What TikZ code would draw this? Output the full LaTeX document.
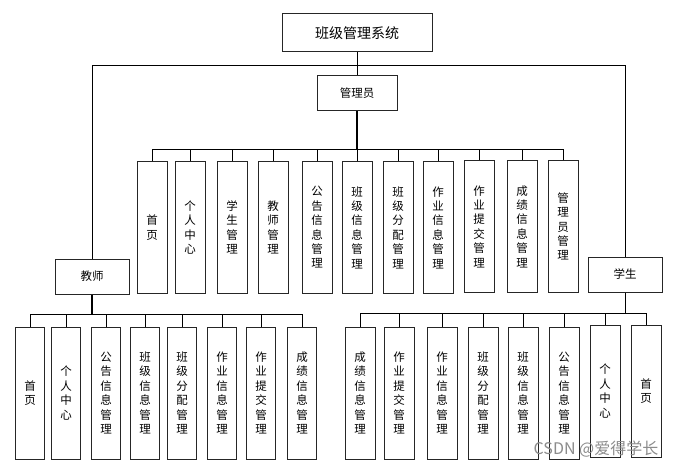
\documentclass[tikz,border=0pt]{standalone}
\usepackage{fontspec}
\newfontfamily\cjk{Noto Sans CJK SC}
\begin{document}
\begin{tikzpicture}[x=1pt,y=-1pt,
  box/.style={draw=black!85,line width=1pt,inner sep=0pt,fill=white,font=\cjk\fontsize{11.5}{14.4}\selectfont},
  abox/.style={box,minimum width=30pt,minimum height=131pt,align=center,text width=12pt},
  tbox/.style={box,minimum width=29pt,minimum height=132pt,align=center,text width=12pt},
  conn/.style={line width=0.8pt},
  trunk/.style={line width=1.6pt}]
\useasboundingbox (0,0) rectangle (680,468);
% top level
\node[box,minimum width=150pt,minimum height=38pt,font=\cjk\fontsize{14}{16}\selectfont] (sys) at (357,33) {班级管理系统};
\node[box,minimum width=80pt,minimum height=35pt] (adm) at (357,93.5) {管理员};
\node[box,minimum width=74pt,minimum height=35pt] (tea) at (92,276.5) {教师};
\node[box,minimum width=74pt,minimum height=35pt] (stu) at (625,274.5) {学生};
\coordinate (tbus) at (357,65);
\coordinate (abus) at (357,149);
\coordinate (tebus) at (92,314);
\coordinate (sbus) at (625,313);
% admin children
\node[abox] (a1) at (152,227.5) {首\\页};
\node[abox] (a2) at (190,227.5) {个\\人\\中\\心};
\node[abox] (a3) at (232,227.5) {学\\生\\管\\理};
\node[abox] (a4) at (273,227.5) {教\\师\\管\\理};
\node[abox] (a5) at (317,227.5) {公\\告\\信\\息\\管\\理};
\node[abox] (a6) at (357,227.5) {班\\级\\信\\息\\管\\理};
\node[abox] (a7) at (398,227.5) {班\\级\\分\\配\\管\\理};
\node[abox] (a8) at (438,227.5) {作\\业\\信\\息\\管\\理};
\node[abox] (a9) at (479,226.5) {作\\业\\提\\交\\管\\理};
\node[abox] (a10) at (522,226.5) {成\\绩\\信\\息\\管\\理};
\node[abox] (a11) at (563,226.5) {管\\理\\员\\管\\理};
% teacher children
\node[tbox] (t1) at (30,393) {首\\页};
\node[tbox] (t2) at (66,393) {个\\人\\中\\心};
\node[tbox] (t3) at (106,393) {公\\告\\信\\息\\管\\理};
\node[tbox] (t4) at (145,393) {班\\级\\信\\息\\管\\理};
\node[tbox] (t5) at (182,393) {班\\级\\分\\配\\管\\理};
\node[tbox] (t6) at (222,393) {作\\业\\信\\息\\管\\理};
\node[tbox] (t7) at (261,393) {作\\业\\提\\交\\管\\理};
\node[tbox] (t8) at (302,393) {成\\绩\\信\\息\\管\\理};
% student children
\node[abox,minimum height=132pt] (s1) at (360,393) {成\\绩\\信\\息\\管\\理};
\node[abox,minimum height=132pt] (s2) at (399,393) {作\\业\\提\\交\\管\\理};
\node[abox,minimum height=132pt] (s3) at (442,393) {作\\业\\信\\息\\管\\理};
\node[abox,minimum height=132pt] (s4) at (483,393) {班\\级\\分\\配\\管\\理};
\node[abox,minimum height=132pt] (s5) at (523,393) {班\\级\\信\\息\\管\\理};
\node[abox,minimum height=132pt] (s6) at (564,393) {公\\告\\信\\息\\管\\理};
\node[abox,minimum height=132pt] (s7) at (605,391) {个\\人\\中\\心};
\node[abox,minimum height=132pt] (s8) at (646,391) {首\\页};
% connectors
\draw[conn] (sys.south) -- (adm.north);
\draw[conn] (tea.north) |- (tbus);
\draw[conn] (stu.north) |- (tbus);
\draw[trunk] (adm.south) -- (abus);
\foreach \i in {1,...,11} {\draw[conn] (a\i.north) |- (abus);}
\draw[trunk] (tea.south) -- (tebus);
\foreach \i in {1,...,8} {\draw[conn] (t\i.north) |- (tebus);}
\draw[conn] (stu.south) -- (sbus);
\foreach \i in {1,...,8} {\draw[conn] (s\i.north) |- (sbus);}
% watermark
\node[text=black!45,font=\cjk\fontsize{16}{18}\selectfont,inner sep=0pt] (wm) at (596,449) {CSDN @爱得学长};
\end{tikzpicture}
\end{document}
